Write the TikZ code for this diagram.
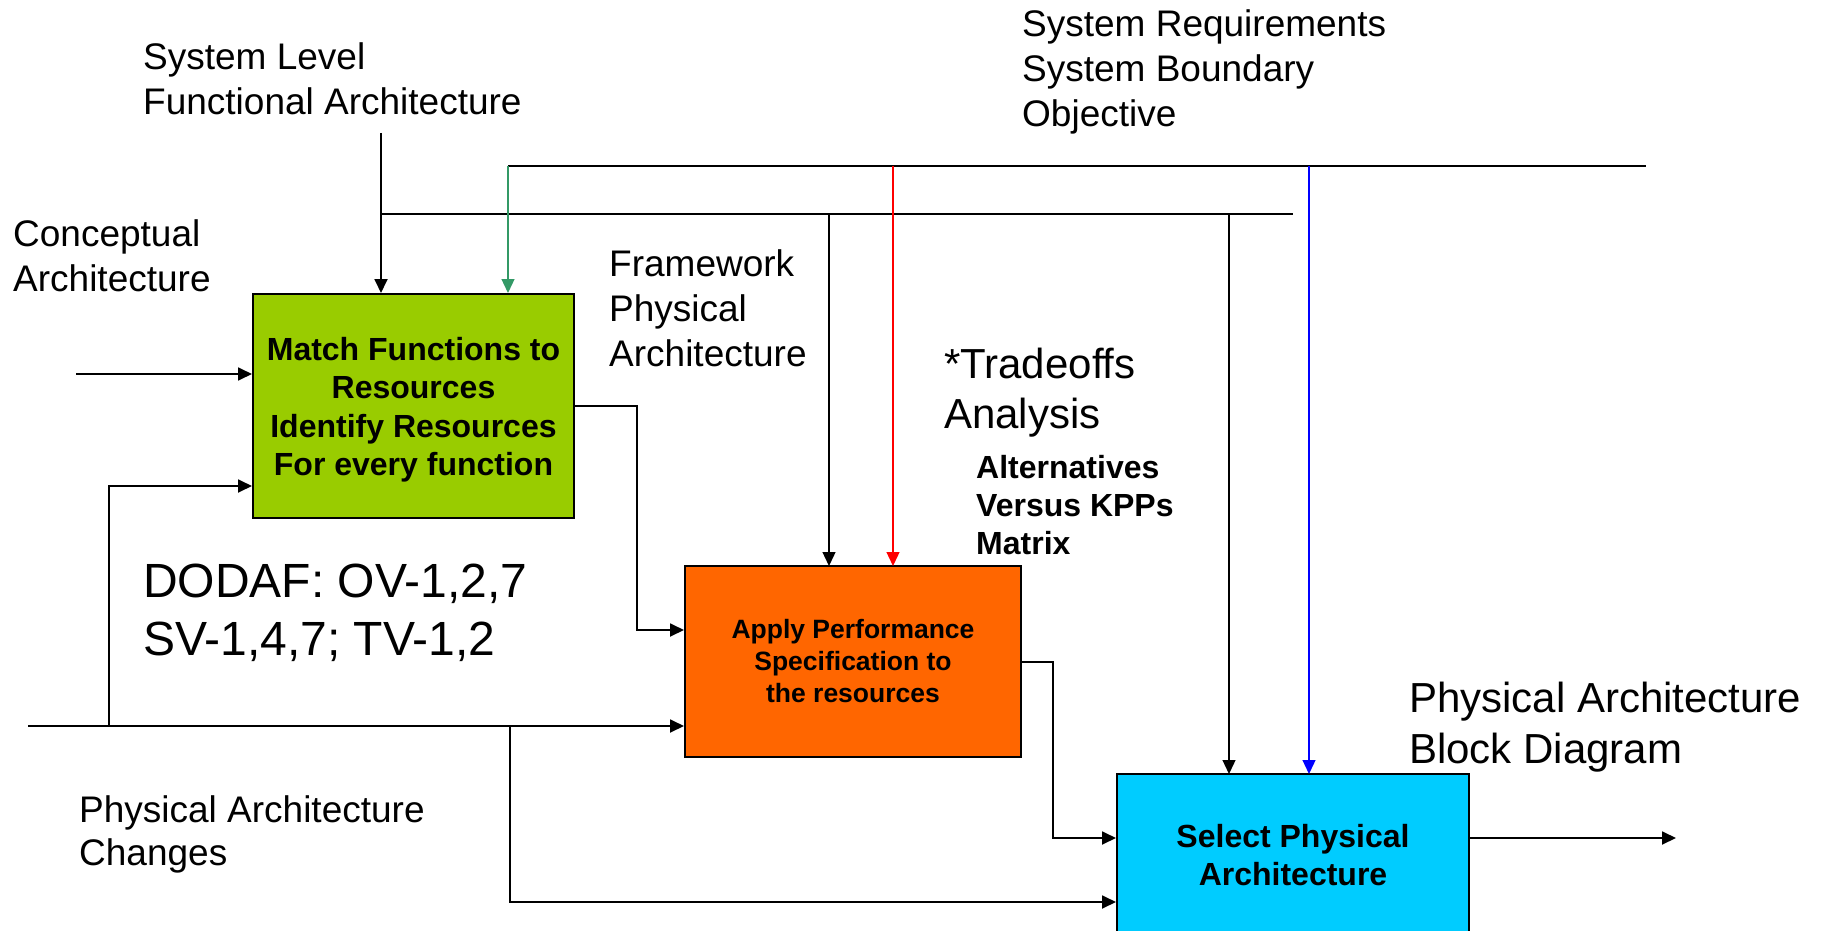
\documentclass[tikz,border=0pt]{standalone}
\usepackage{fontspec}
\setmainfont{Liberation Sans}
\usetikzlibrary{arrows.meta}
\definecolor{boxgreen}{HTML}{99CC00}
\definecolor{boxorange}{HTML}{FF6600}
\definecolor{boxblue}{HTML}{00CCFF}
\definecolor{linkgreen}{HTML}{339966}

\begin{document}
\begin{tikzpicture}[x=1pt,y=-1pt,
  proc/.style={draw=black, line width=2pt, inner sep=0pt, align=center},
  lbl/.style={anchor=base west, inner sep=0pt, align=left},
  tip/.style={-{Triangle[length=14pt,width=13pt]}},
  conn/.style={line width=1.8pt, tip},
  feed/.style={line width=1.3pt, tip},
  bus/.style={line width=2pt}
]
\useasboundingbox (0,0) rectangle (1826,931);
\clip (0,0) rectangle (1826,931);

% process boxes
\node[proc, fill=boxgreen, minimum width=321pt, minimum height=224pt,
      font=\bfseries\fontsize{32}{38.5}\selectfont] (match) at (413.5,406)
  {\rule{0pt}{31pt}Match Functions to\\Resources\\Identify Resources\\For every function};
\node[proc, fill=boxorange, minimum width=336pt, minimum height=191pt,
      font=\bfseries\fontsize{26.5}{32}\selectfont] (apply) at (853,661.5)
  {Apply Performance\\Specification to\\the resources};
\node[proc, fill=boxblue, minimum width=352pt, minimum height=162pt,
      font=\bfseries\fontsize{32}{38}\selectfont] (select) at (1293,855)
  {Select Physical\\Architecture};

% labels (anchored at the baseline of their last line)
\node[lbl, font=\fontsize{37}{45}\selectfont] (sysl) at (143,115)
  {System Level\\Functional Architecture};
\node[lbl, font=\fontsize{37}{45}\selectfont] (concept) at (13,291)
  {Conceptual\\Architecture};
\node[lbl, font=\fontsize{37}{45}\selectfont] (frame) at (609,366)
  {Framework\\Physical\\Architecture};
\node[lbl, font=\fontsize{37}{45}\selectfont] (sysreq) at (1022,127)
  {System Requirements\\System Boundary\\Objective};
\node[lbl, font=\fontsize{42}{50}\selectfont] (trade) at (944,428)
  {*Tradeoffs\\Analysis};
\node[lbl, font=\bfseries\fontsize{32}{38}\selectfont] (alt) at (976,554)
  {Alternatives\\Versus KPPs\\Matrix};
\node[lbl, font=\fontsize{48}{58}\selectfont] (dodaf) at (143,655)
  {DODAF: OV-1,2,7\\SV-1,4,7; TV-1,2};
\node[lbl, font=\fontsize{37}{43}\selectfont] (pachg) at (79,865)
  {Physical Architecture\\Changes};
\node[lbl, font=\fontsize{42}{51}\selectfont] (pabd) at (1409,763)
  {Physical Architecture\\Block Diagram};

% connector end points
\coordinate (funcTop) at (381,133);
\coordinate (lowBusL) at (381,214);
\coordinate (lowBusR) at (1293,214);
\coordinate (upBusL) at (508,166);
\coordinate (upBusR) at (1646,166);
\coordinate (concIn) at (76,374);
\coordinate (chgIn) at (28,726);
\coordinate (outEnd) at (1676,838);

% functional architecture feed and lower bus
\draw[conn] (funcTop) -- (funcTop |- match.north);
\draw[bus] (lowBusL) -- (lowBusR);
\draw[feed] (829,214) -- (829,566);
\draw[feed] (1229,214) -- (1229,774);

% requirements bus
\draw[bus] (upBusL) -- (upBusR);
\draw[feed, draw=linkgreen, fill=linkgreen] (upBusL) -- (upBusL |- match.north);
\draw[feed, draw=red, fill=red] (893,166) -- (893,566);
\draw[feed, draw=blue, fill=blue] (1309,166) -- (1309,774);

% conceptual architecture input
\draw[conn] (concIn) -- (concIn -| match.west);

% physical architecture changes input and its branches
\draw[conn] (chgIn) -- (chgIn -| apply.west);
\draw[conn] (109,726) -- (109,486) -- (match.west |- 0,486);
\draw[conn] (510,726) -- (510,902) -- (select.west |- 0,902);

% flow between the process boxes
\draw[conn] (match.east |- 0,406) -- (637,406) -- (637,630) -- (apply.west |- 0,630);
\draw[conn] (apply.east |- 0,662) -- (1053,662) -- (1053,838) -- (select.west |- 0,838);
\draw[conn] (select.east |- 0,838) -- (outEnd);
\end{tikzpicture}
\end{document}
